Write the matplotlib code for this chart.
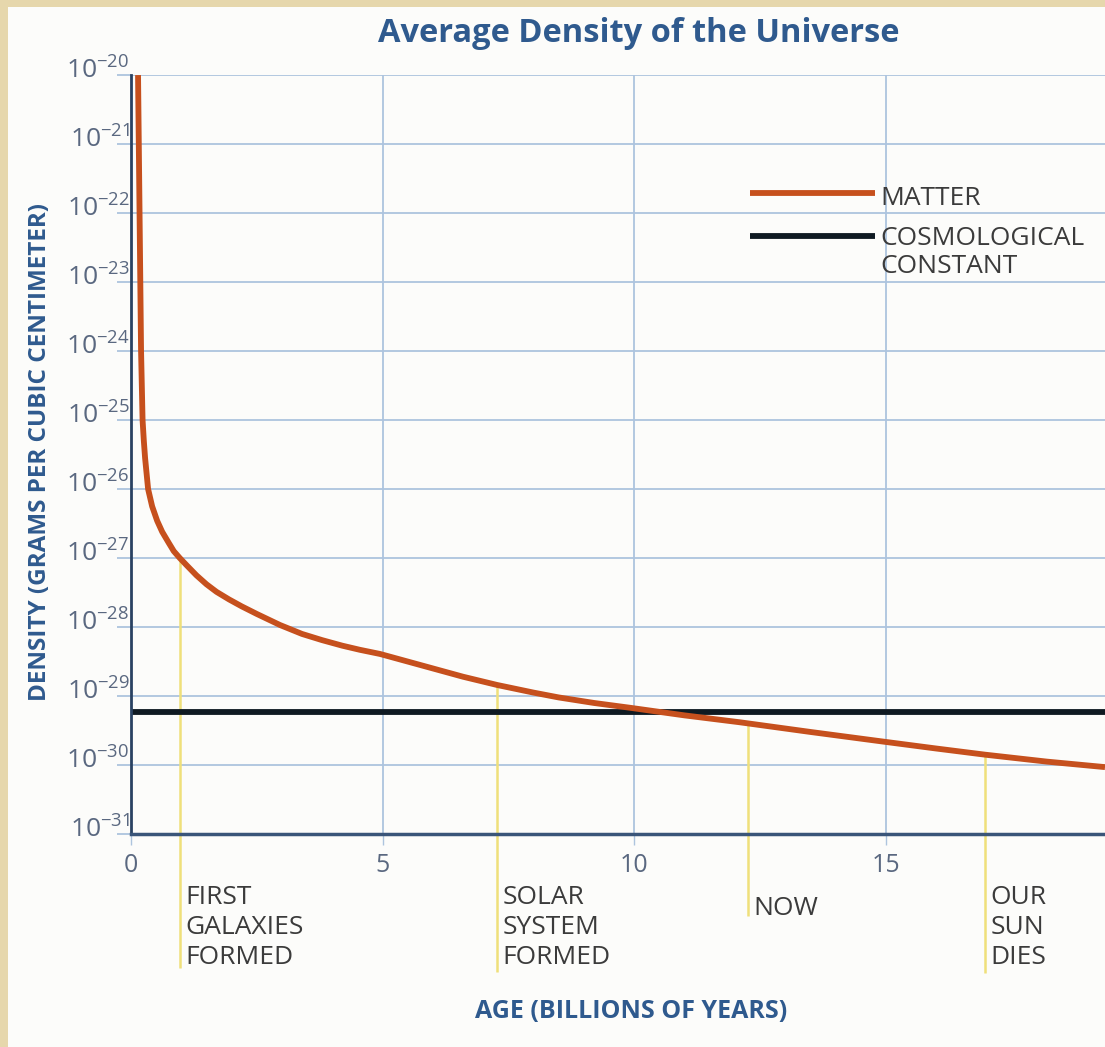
import matplotlib
matplotlib.use("Agg")
import matplotlib.pyplot as plt
from matplotlib.patches import Rectangle
from matplotlib.transforms import ScaledTranslation

# age (billions of years) and log10 of matter density
matter_age = [0.14, 0.17, 0.20, 0.23, 0.255, 0.28, 0.34, 0.42, 0.52, 0.62, 0.75, 0.85,
              0.97, 1.1, 1.3, 1.5, 1.7, 1.95, 2.2, 2.5, 2.96, 3.4, 3.8, 4.2, 4.55,
              4.95, 5.5, 6.0, 6.6, 7.28, 8.0, 8.5, 9.2, 9.92, 11.0, 12.1, 12.5, 13.5,
              14.95, 16.0, 16.98, 18.2, 19.36]
matter_log = [-20.0, -22.0, -24.0, -25.0, -25.3, -25.55, -26.0, -26.25, -26.46, -26.62,
              -26.78, -26.9, -27.0, -27.1, -27.25, -27.38, -27.49, -27.6, -27.7, -27.81,
              -27.97, -28.1, -28.19, -28.27, -28.33, -28.39, -28.5, -28.6, -28.72, -28.84,
              -28.95, -29.02, -29.1, -29.17, -29.28, -29.38, -29.42, -29.52, -29.66,
              -29.76, -29.85, -29.95, -30.03]
matter = [10 ** v for v in matter_log]

cosmo_log = -29.23

# events along the timeline
event_age = [0.97, 7.28, 12.27, 16.98]
event_log = [-27.0, -28.84, -29.40, -29.85]
event_text = ["FIRST\nGALAXIES\nFORMED", "SOLAR\nSYSTEM\nFORMED", "NOW", "OUR\nSUN\nDIES"]

x_ticks = [0, 5, 10, 15]
y_exponents = list(range(-31, -19))

NAVY = "#2f5a8e"
GRID = "#adc4de"
TICKTXT = "#5a6880"
TXT = "#3b3b3b"
ORANGE = "#c6501d"
BLACK = "#0f1a22"

plt.rcParams['font.family'] = ['Open Sans', 'DejaVu Sans']
plt.rcParams['mathtext.default'] = 'regular'

fig = plt.figure(figsize=(11.05, 10.47), dpi=100)
fig.patch.set_facecolor("#fcfcfa")
# parchment edges of the scanned page
fig.patches.append(Rectangle((0, 0), 8 / 1105, 1, transform=fig.transFigure,
                             facecolor="#e6d7ac", edgecolor="none"))
fig.patches.append(Rectangle((0, 1 - 7 / 1047), 1, 7 / 1047, transform=fig.transFigure,
                             facecolor="#e6d7ac", edgecolor="none"))

ax = fig.add_axes([131 / 1105, 0.2034, 974 / 1105, 0.7249])
ax.set_facecolor("none")
ax.set_yscale("log")
ax.set_xlim(0, 19.36)
ax.set_ylim(1e-31, 1e-20)

ax.set_xticks(x_ticks)
ax.set_xticklabels([str(t) for t in x_ticks])
ax.set_yticks([10.0 ** e for e in y_exponents])
ax.set_yticklabels(["$10^{%d}$" % e for e in y_exponents])
ax.yaxis.set_minor_locator(matplotlib.ticker.NullLocator())

ax.grid(True, color=GRID, linewidth=1.3, zorder=1)
ax.tick_params(axis="y", length=10, width=1.3, color=GRID, pad=-9,
               labelsize=19, labelcolor=TICKTXT)
ax.tick_params(axis="x", length=8, width=1.0, color=GRID, pad=6,
               labelsize=18, labelcolor=TICKTXT)
for lab in ax.get_yticklabels():
    lab.set_transform(lab.get_transform() + ScaledTranslation(0, 5 / 72, fig.dpi_scale_trans))

for s in ["top", "right"]:
    ax.spines[s].set_visible(False)
ax.spines["left"].set_color("#2a4262")
ax.spines["left"].set_linewidth(2)
ax.spines["bottom"].set_color("#3a5579")
ax.spines["bottom"].set_linewidth(2.5)
ax.spines["left"].set_zorder(5)
ax.spines["bottom"].set_zorder(5)

# event markers (yellow) reaching below the axis
bottoms = [-32.94, -33.0, -32.19, -33.02]
for a, lv, b, t in zip(event_age, event_log, bottoms, event_text):
    ax.vlines(a, 10 ** b, 10 ** lv, color="#efe07a", linewidth=1.8, zorder=2, clip_on=False)
    ytop = -0.0665 if t != "NOW" else -0.082
    ax.annotate(t, xy=(a, ytop), xycoords=("data", "axes fraction"),
                xytext=(4, 0), textcoords="offset points", ha="left", va="top",
                fontsize=19, color=TXT, linespacing=1.27, annotation_clip=False)

ax.axhline(10 ** cosmo_log, color=BLACK, linewidth=4.2, zorder=3)
ax.plot(matter_age, matter, color=ORANGE, linewidth=4.2, zorder=4,
        solid_capstyle="butt", solid_joinstyle="round")

# legend drawn in axes space
ax.plot([0.6355, 0.7639], [0.8445, 0.8445], transform=ax.transAxes,
        color=ORANGE, linewidth=4.2, solid_capstyle="butt")
ax.plot([0.6355, 0.7639], [0.7879, 0.7879], transform=ax.transAxes,
        color=BLACK, linewidth=4.2, solid_capstyle="butt")
ax.text(0.769, 0.8380, "MATTER", transform=ax.transAxes, ha="left", va="center",
        fontsize=19, color=TXT)
ax.text(0.769, 0.8010, "COSMOLOGICAL\nCONSTANT", transform=ax.transAxes, ha="left",
        va="top", fontsize=19, color=TXT, linespacing=1.13)

fig.text(639 / 1105, 1 - 33 / 1047, "Average Density of the Universe", ha="center",
         va="center", fontsize=23.5, fontweight="bold", color=NAVY)
fig.text(631 / 1105, 1 - 1012 / 1047, "AGE (BILLIONS OF YEARS)", ha="center",
         va="center", fontsize=18, fontweight="bold", color=NAVY)
fig.text(40 / 1105, 1 - 452 / 1047, "DENSITY (GRAMS PER CUBIC CENTIMETER)", ha="center",
         va="center", rotation=90, fontsize=17.5, fontweight="bold", color=NAVY)

fig.savefig("out.png", dpi=100, facecolor=fig.get_facecolor())
